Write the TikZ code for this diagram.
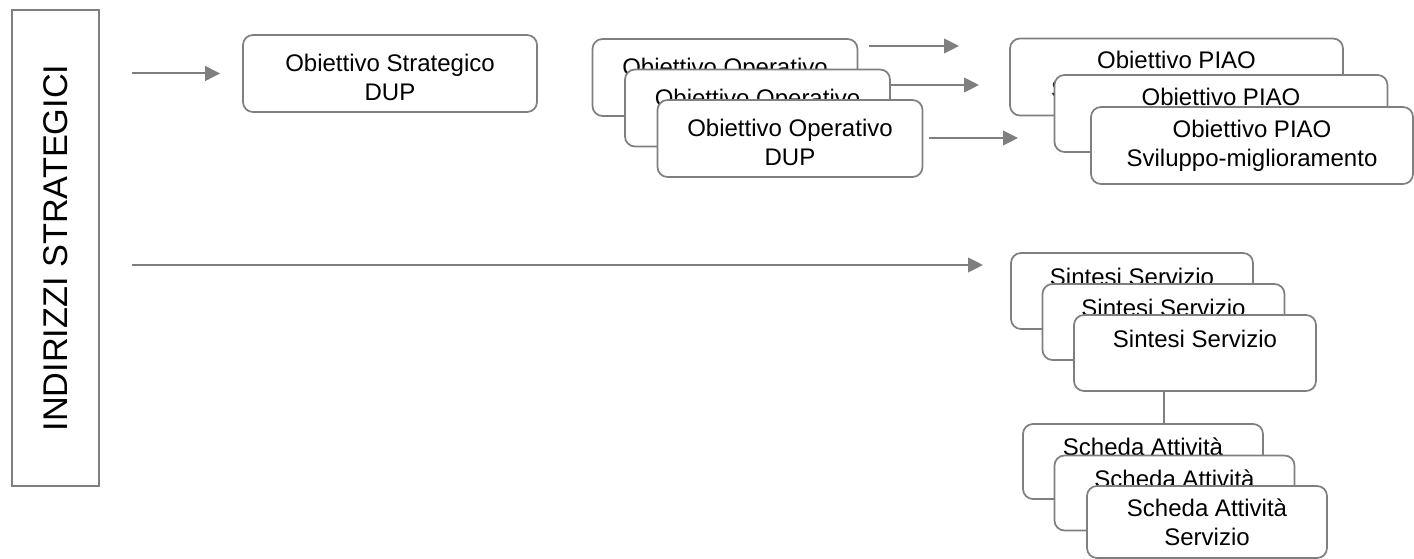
\documentclass[tikz,border=0pt]{standalone}
\usepackage{fontspec}
\setmainfont{Liberation Sans}
\usetikzlibrary{arrows.meta, positioning}
\definecolor{cline}{HTML}{7F7F7F}
\definecolor{ctextd}{HTML}{000000}
\newcommand{\tallln}{\rule{0pt}{19pt}}
\tikzset{
  box/.style 2 args={
    rounded corners=7.5pt,
    draw=cline, fill=white,
    text=ctextd, font=\fontsize{18}{21.5}\selectfont,
    minimum width=#1, minimum height=#2,
    align=center, line width=1.3pt,
    inner sep=0pt,
  },
  frame/.style={
    draw=cline, line width=1pt,
    text=ctextd, font=\fontsize{25.7}{30}\selectfont,
    inner sep=0pt,
  },
  arr/.style={
    -{Triangle[length=11.25pt,width=11pt]},
    line width=1.5pt, color=cline,
  },
  link/.style={line width=1.5pt, color=cline},
}

\begin{document}
\begin{tikzpicture}[x=0.75pt, y=-0.75pt]
\useasboundingbox (0,0) rectangle (1414,559);

%% ── LEFT FRAME ────────────────────────────────────────────
\node[frame, rotate=90, minimum width=357pt, minimum height=65.25pt]
  (ind) at (55.5,248) {INDIRIZZI STRATEGICI};

%% ── STRATEGIC OBJECTIVE ───────────────────────────────────
\node[box={220.5pt}{57.75pt}] (str) at (390,73.5)
  {\tallln Obiettivo Strategico\\DUP};

%% ── OPERATIVE STACK ───────────────────────────────────────
\node[box={198.75pt}{57.75pt}] (op1) at (725,77.5)
  {\tallln Obiettivo Operativo\\DUP};
\node[box={198.75pt}{57.75pt}] (op2) at ([shift={(32.5,30.5)}]op1.center)
  {\tallln Obiettivo Operativo\\DUP};
\node[box={198.75pt}{57.75pt}] (op3) at ([shift={(32.5,30.5)}]op2.center)
  {\tallln Obiettivo Operativo\\DUP};

%% ── PIAO STACK ────────────────────────────────────────────
\node[box={249.75pt}{57.75pt}] (piao1) at (1176.5,77)
  {Obiettivo PIAO\\Sviluppo-miglioramento};
\node[box={249.75pt}{57.75pt}] (piao2) at (1221,113.5)
  {Obiettivo PIAO\\Sviluppo-miglioramento};
\node[box={241.5pt}{57.75pt}] (piao3) at (1252,145.5)
  {Obiettivo PIAO\\Sviluppo-miglioramento};

%% ── SERVICE STACK ─────────────────────────────────────────
\node[box={181.5pt}{57pt}] (sint1) at (1132,291)
  {Sintesi Servizio\\~};
\node[box={181.5pt}{57pt}] (sint2) at ([shift={(31.5,31)}]sint1.center)
  {Sintesi Servizio\\~};
\node[box={181.5pt}{57pt}] (sint3) at ([shift={(31.5,31)}]sint2.center)
  {Sintesi Servizio\\~};

%% ── ACTIVITY STACK ────────────────────────────────────────
\node[box={180pt}{56.25pt}] (sch1) at (1143,461.5)
  {Scheda Attività\\Servizio};
\node[box={180pt}{56.25pt}] (sch2) at ([shift={(31.5,31.5)}]sch1.center)
  {Scheda Attività\\Servizio};
\node[box={180pt}{54pt}] (sch3) at (1207,522)
  {Scheda Attività\\Servizio};

%% ── Free arrow ends ───────────────────────────────────────
\coordinate (p1in) at (959,46);
\coordinate (p2in) at (979,85);
\coordinate (p3in) at (1018,138);
\coordinate (s1in) at (983,265);

%% ── Arrows ────────────────────────────────────────────────
\draw[arr] ([xshift=24pt]ind.south |- str) -- ([xshift=-16.5pt]str.west);
\draw[arr] ([xshift=24pt]ind.south |- s1in) -- (s1in);
\draw[arr] ([xshift=8pt]op1.east |- p1in) -- (p1in);
\draw[arr] (op2.east |- p2in) -- (p2in);
\draw[arr] ([xshift=4.5pt]op3.east |- p3in) -- (p3in);
\draw[link] (sint2 |- sint3.south) -- (sint2 |- sch1.north);

\end{tikzpicture}
\end{document}
